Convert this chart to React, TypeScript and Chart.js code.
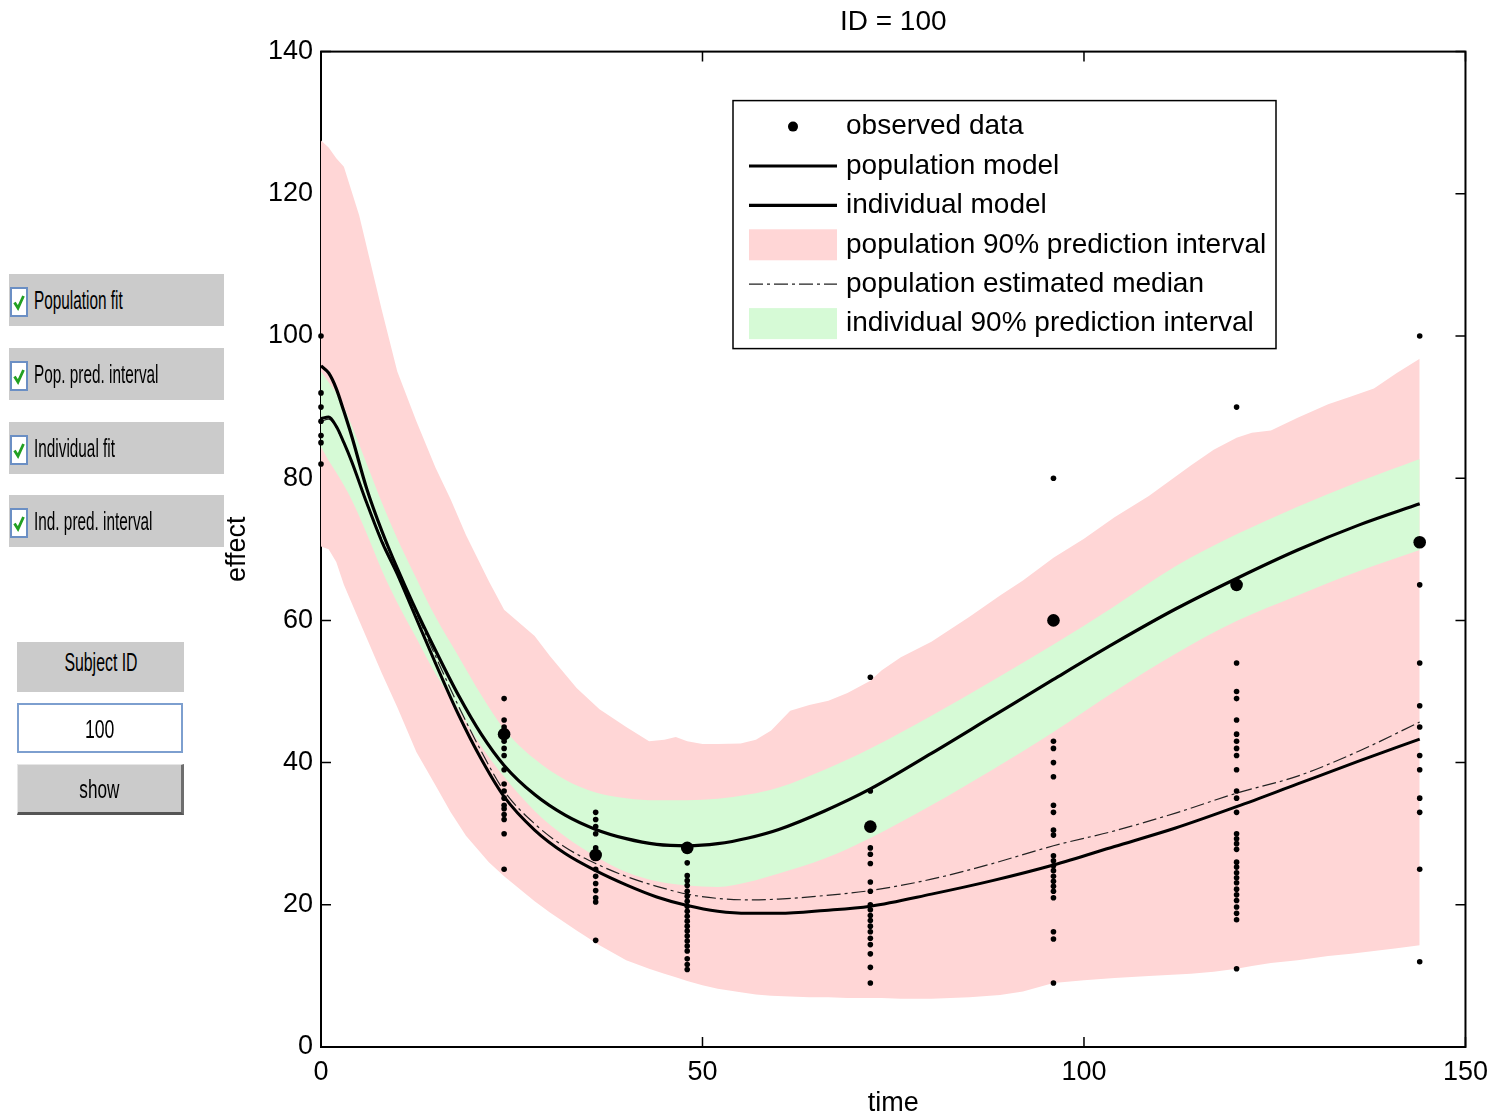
import React, { useEffect, useRef } from "react";
import { Chart, registerables } from "chart.js";

Chart.register(...registerables);

// ---------- data ----------
const curveTimes = [0, 1, 2, 3, 4, 6, 8, 10, 12, 15, 18, 21, 24, 28, 32, 36, 40, 44, 48, 52, 56, 60, 66, 72, 80, 88, 96, 104, 112, 120, 128, 136, 144];
const individualModel = [95.8, 94.8, 92.6, 89.4, 86, 78.5, 72.5, 67.3, 62.5, 55.8, 49.5, 44, 39.6, 35.5, 32.6, 30.6, 29.3, 28.5, 28.3, 28.6, 29.4, 30.6, 33.2, 36.3, 41.3, 46.5, 51.7, 56.8, 61.6, 65.9, 69.9, 73.4, 76.4];
const populationModel = [88.4, 88.6, 87.3, 85, 82.4, 76.5, 71, 66.5, 61.5, 54, 46.8, 40.5, 35.2, 30.5, 27.2, 24.8, 22.8, 21.1, 19.9, 19.1, 18.8, 18.8, 19.2, 19.8, 21.5, 23.4, 25.6, 28.2, 30.8, 33.8, 37, 40.2, 43.3];
const populationMedian = [88, 88.3, 87.1, 84.9, 82.3, 76.6, 71.3, 66.9, 62.2, 55, 48, 41.6, 36, 31.4, 28.1, 25.8, 24, 22.6, 21.5, 20.9, 20.7, 20.8, 21.3, 22, 23.6, 25.8, 28.3, 30.4, 32.9, 35.7, 38.1, 41.6, 45.7];
const indPiUpper = [95, 93.5, 92, 90, 87.5, 82, 76.5, 71.5, 67, 60.5, 55, 49.5, 44.7, 40.5, 37.6, 35.8, 35, 34.7, 34.7, 34.9, 35.5, 36.5, 39, 42, 46.6, 51.5, 56.6, 62, 67.6, 72.1, 76, 79.5, 82.7];
const indPiLower = [84.4, 82.5, 80.8, 79, 77, 72.2, 67, 62.5, 58.5, 52.5, 47.5, 42.3, 38, 33.2, 29.6, 26.8, 24.6, 23.3, 22.7, 22.5, 23.2, 24.4, 26.5, 29.4, 34, 39, 44.3, 50, 55.3, 59.9, 63.5, 66.9, 69.9];

const pinkTimes = [0, 1, 2, 3, 5, 8, 10, 12.5, 15, 17, 19, 22, 24, 28, 30, 33.5, 36.5, 40, 43, 45, 46.5, 48, 50, 52, 55, 57, 59, 61.5, 64, 66.5, 69, 72, 73.5, 76, 80, 85, 89, 92, 96, 100, 104, 108.5, 114, 117, 120, 122, 124.5, 128, 132, 135, 138, 141, 144];
const popPiUpper = [127.5, 126.5, 125, 123.8, 117, 103.5, 95, 88, 81.5, 77, 72, 65.5, 61.5, 57.8, 55, 50.5, 47.5, 45, 43, 43.2, 43.6, 43, 42.6, 42.6, 42.7, 43.2, 44.5, 47.3, 48.1, 48.7, 49.8, 51.5, 53, 54.8, 57, 60.5, 63.5, 65.6, 68.8, 71.5, 74.5, 77.5, 81.8, 84, 85.7, 86.4, 86.7, 88.5, 90.4, 91.5, 92.6, 94.8, 96.8];
const popPiLower = [70.4, 70, 68.2, 65, 60, 52.5, 47.8, 41.5, 36.8, 33, 29.7, 26, 24, 20.5, 18.9, 16.4, 14.3, 12.2, 11, 10.3, 9.8, 9.3, 8.7, 8.2, 7.7, 7.4, 7.2, 7.1, 7, 7, 6.9, 6.9, 6.9, 6.8, 6.8, 7, 7.3, 7.8, 9, 9.4, 9.7, 10, 10.3, 10.6, 11, 11.4, 11.8, 12.2, 12.8, 13.1, 13.5, 13.9, 14.3];

const observedTimes = [24, 36, 48, 72, 96, 120, 144];
const observedValues = [44, 27, 28, 31, 60, 65, 71];

const sampleTimes = [0, 24, 36, 48, 72, 96, 120, 144];
const simAt0 = [100, 92, 90, 88, 86, 85, 82];
const simAt24 = [49, 46, 45, 43, 42, 41, 39, 37, 36, 35, 34, 33.5, 32.7, 32, 30, 25];
const simAt36 = [33, 32, 31, 30, 28, 25, 24, 23, 22, 21, 20.4, 15];
const simAt48 = [25.9, 24.1, 23.4, 22.7, 21.9, 21.2, 20.5, 19.8, 19.1, 18.4, 17.7, 17, 16.3, 15.6, 14.9, 14.2, 13.5, 12.4, 11.6, 10.9];
const simAt72 = [52, 36, 28, 27.1, 25.8, 23.2, 21.9, 20, 19.3, 18.5, 17.8, 17, 16.2, 15.3, 14.4, 13.1, 11.2, 9];
const simAt96 = [80, 43, 42, 40, 38, 34, 33, 30.5, 29.8, 26.9, 26.2, 25.5, 24.8, 24, 23.3, 22.6, 21.9, 21, 16.2, 15.2, 9];
const simAt120 = [90, 54, 50, 49, 46, 44, 43, 42, 41, 39, 36, 35, 33, 30, 29.3, 28.6, 27.8, 26, 25.3, 24.5, 23.8, 23.1, 22.2, 21.4, 20.6, 19.7, 18.8, 17.9, 11];
const simAt144 = [100, 65, 54, 48, 45, 41, 39, 35, 33, 25, 12];
const simulatedData = [simAt0, simAt24, simAt36, simAt48, simAt72, simAt96, simAt120, simAt144];

const xTicks = [0, 50, 100, 150];
const yTicks = [0, 20, 40, 60, 80, 100, 120, 140];

const PINK = "rgb(255, 214, 214)";
const GREEN = "rgb(214, 250, 214)";
const FONT = '"Liberation Sans", Arial, Helvetica, sans-serif';

const toPts = (ts: number[], vs: number[]) => ts.map((t, i) => ({ x: t, y: vs[i] }));

// ---------- plugins ----------
const framePlugin = {
  id: "frame",
  beforeDatasetsDraw(chart: any) {
    const { ctx, chartArea: a, scales } = chart;
    const len = 10;
    ctx.save();
    ctx.strokeStyle = "#000";
    ctx.lineWidth = 2;
    ctx.strokeRect(a.left, a.top, a.right - a.left, a.bottom - a.top);
    ctx.lineWidth = 1.5;
    ctx.beginPath();
    scales.x.ticks.forEach((t: any) => {
      const px = scales.x.getPixelForValue(t.value);
      ctx.moveTo(px, a.bottom);
      ctx.lineTo(px, a.bottom - len);
      ctx.moveTo(px, a.top);
      ctx.lineTo(px, a.top + len);
    });
    scales.y.ticks.forEach((t: any) => {
      const py = scales.y.getPixelForValue(t.value);
      ctx.moveTo(a.left, py);
      ctx.lineTo(a.left + len, py);
      ctx.moveTo(a.right, py);
      ctx.lineTo(a.right - len, py);
    });
    ctx.stroke();
    ctx.restore();
  },
};

const boxLegendPlugin = {
  id: "boxLegend",
  afterDatasetsDraw(chart: any, _args: any, opts: any) {
    const { ctx, chartArea: a } = chart;
    const x0 = a.left + opts.offsetX;
    const y0 = a.top + opts.offsetY;
    ctx.save();
    ctx.fillStyle = "#fff";
    ctx.fillRect(x0, y0, opts.width, opts.height);
    ctx.strokeStyle = "#000";
    ctx.lineWidth = 1.5;
    ctx.strokeRect(x0, y0, opts.width, opts.height);
    const items = chart.data.datasets.filter((d: any) => d.legendSymbol);
    items.forEach((d: any, i: number) => {
      const cy = y0 + opts.firstRow + i * opts.rowGap;
      const sx0 = x0 + opts.symbolLeft;
      const sx1 = x0 + opts.symbolRight;
      if (d.legendSymbol === "point") {
        ctx.fillStyle = d.pointBackgroundColor;
        ctx.beginPath();
        ctx.arc((sx0 + sx1) / 2, cy, 5, 0, Math.PI * 2);
        ctx.fill();
      } else if (d.legendSymbol === "line") {
        ctx.strokeStyle = d.borderColor;
        ctx.lineWidth = d.borderWidth;
        ctx.setLineDash(d.borderDash || []);
        ctx.beginPath();
        ctx.moveTo(sx0, cy);
        ctx.lineTo(sx1, cy);
        ctx.stroke();
        ctx.setLineDash([]);
      } else if (d.legendSymbol === "box") {
        ctx.fillStyle = d.backgroundColor;
        ctx.fillRect(sx0, cy - 15.5, sx1 - sx0, 31);
      }
      ctx.fillStyle = "#000";
      ctx.font = `28px ${FONT}`;
      ctx.textBaseline = "middle";
      ctx.textAlign = "left";
      ctx.fillText(d.label, x0 + opts.textLeft, cy);
    });
    ctx.restore();
  },
};

// ---------- controls ----------
const GRAY = "#cbcbcb";

function CheckRow({ top, label }: { top: number; label: string }) {
  return (
    <div style={{ position: "absolute", left: 9, top, width: 215, height: 52, background: GRAY }}>
      <div
        style={{
          position: "absolute",
          left: 1,
          top: 13,
          width: 14,
          height: 26,
          border: "2px solid #6b8fc4",
          background: "#fff",
        }}
      >
        <svg width={14} height={26} style={{ position: "absolute", left: 0, top: 0 }}>
          <polyline points="2.5,13.5 6,19 11.5,7" fill="none" stroke="#22a022" strokeWidth={2.8} />
        </svg>
      </div>
      <span
        style={{
          position: "absolute",
          left: 25,
          top: 0,
          lineHeight: "52px",
          fontSize: 26,
          fontFamily: FONT,
          color: "#000",
          whiteSpace: "nowrap",
          transform: "scaleX(0.59)",
          transformOrigin: "left center",
        }}
      >
        {label}
      </span>
    </div>
  );
}

function CenterText({ text, scale, dy }: { text: string; scale: number; dy: number }) {
  return (
    <div
      style={{
        position: "absolute",
        left: 0,
        right: 0,
        top: dy,
        bottom: -dy,
        display: "flex",
        alignItems: "center",
        justifyContent: "center",
      }}
    >
      <span
        style={{
          fontSize: 26,
          fontFamily: FONT,
          color: "#000",
          whiteSpace: "nowrap",
          transform: `scaleX(${scale})`,
          transformOrigin: "center center",
        }}
      >
        {text}
      </span>
    </div>
  );
}

export default function App() {
  const canvasRef = useRef<HTMLCanvasElement>(null);

  useEffect(() => {
    Chart.defaults.font.family = FONT;
    Chart.defaults.color = "#000";
    const simPoints = sampleTimes.flatMap((t, i) => simulatedData[i].map((v) => ({ x: t, y: v })));

    const chart = new Chart(canvasRef.current as HTMLCanvasElement, {
      type: "line",
      data: {
        datasets: [
          {
            label: "observed data",
            data: toPts(observedTimes, observedValues),
            showLine: false,
            pointRadius: 6.3,
            pointBackgroundColor: "#000",
            pointBorderColor: "#000",
            pointBorderWidth: 0,
            order: 0,
            clip: false,
            legendSymbol: "point",
          },
          {
            label: "population model",
            data: toPts(curveTimes, populationModel),
            borderColor: "#000",
            borderWidth: 3,
            pointRadius: 0,
            cubicInterpolationMode: "monotone",
            fill: false,
            order: 2,
            legendSymbol: "line",
          },
          {
            label: "individual model",
            data: toPts(curveTimes, individualModel),
            borderColor: "#000",
            borderWidth: 3.2,
            pointRadius: 0,
            cubicInterpolationMode: "monotone",
            fill: false,
            order: 2,
            legendSymbol: "line",
          },
          {
            label: "population 90% prediction interval",
            data: toPts(pinkTimes, popPiUpper),
            borderColor: "transparent",
            borderWidth: 0,
            backgroundColor: PINK,
            pointRadius: 0,
            fill: 7,
            order: 10,
            legendSymbol: "box",
          },
          {
            label: "population estimated median",
            data: toPts(curveTimes, populationMedian),
            borderColor: "#222",
            borderWidth: 1.2,
            borderDash: [14, 4, 3, 4],
            pointRadius: 0,
            cubicInterpolationMode: "monotone",
            fill: false,
            order: 3,
            legendSymbol: "line",
          },
          {
            label: "individual 90% prediction interval",
            data: toPts(curveTimes, indPiUpper),
            borderColor: "transparent",
            borderWidth: 0,
            backgroundColor: GREEN,
            pointRadius: 0,
            cubicInterpolationMode: "monotone",
            fill: 8,
            order: 8,
            legendSymbol: "box",
          },
          {
            label: "",
            data: simPoints,
            showLine: false,
            pointRadius: 2.8,
            pointBackgroundColor: "#000",
            pointBorderColor: "#000",
            pointBorderWidth: 0,
            order: 1,
            clip: false,
          },
          {
            label: "",
            data: toPts(pinkTimes, popPiLower),
            borderColor: "transparent",
            borderWidth: 0,
            pointRadius: 0,
            fill: false,
            order: 11,
          },
          {
            label: "",
            data: toPts(curveTimes, indPiLower),
            borderColor: "transparent",
            borderWidth: 0,
            pointRadius: 0,
            cubicInterpolationMode: "monotone",
            fill: false,
            order: 9,
          },
        ] as any,
      },
      options: {
        responsive: false,
        maintainAspectRatio: false,
        devicePixelRatio: 1,
        animation: false,
        events: [],
        layout: { padding: { left: 0, right: 30, top: 0, bottom: 0 } },
        scales: {
          x: {
            type: "linear",
            min: xTicks[0],
            max: xTicks[xTicks.length - 1],
            afterBuildTicks: (s: any) => {
              s.ticks = xTicks.map((v) => ({ value: v }));
            },
            ticks: { font: { size: 27 }, color: "#000", padding: 9, maxRotation: 0, autoSkip: false },
            grid: { display: false, drawTicks: false },
            border: { display: false },
            title: { display: true, text: "time", font: { size: 27 }, color: "#000", padding: { top: 0, bottom: -3 } },
            afterFit: (s: any) => {
              s.height = 70;
            },
          },
          y: {
            type: "linear",
            min: yTicks[0],
            max: yTicks[yTicks.length - 1],
            afterBuildTicks: (s: any) => {
              s.ticks = yTicks.map((v) => ({ value: v }));
            },
            ticks: { font: { size: 27 }, color: "#000", padding: 8, autoSkip: false },
            grid: { display: false, drawTicks: false },
            border: { display: false },
            title: { display: true, text: "effect", font: { size: 27 }, color: "#000", padding: { top: 221, bottom: 0 } },
            afterFit: (s: any) => {
              s.width = 321;
            },
          },
        },
        plugins: {
          legend: { display: false },
          tooltip: { enabled: false },
          title: {
            display: true,
            text: "ID = 100",
            fullSize: false,
            font: { size: 28, weight: "normal" },
            color: "#000",
            padding: { top: 5, bottom: 13 },
          },
          boxLegend: {
            offsetX: 412,
            offsetY: 49,
            width: 543,
            height: 248,
            firstRow: 26,
            rowGap: 39.4,
            symbolLeft: 16,
            symbolRight: 104,
            textLeft: 113,
          },
        } as any,
      },
      plugins: [framePlugin, boxLegendPlugin],
    });
    return () => chart.destroy();
  }, []);

  return (
    <div style={{ position: "absolute", left: 0, top: 0, width: 1497, height: 1117, background: "#fff", overflow: "hidden" }}>
      <canvas ref={canvasRef} width={1497} height={1117} style={{ position: "absolute", left: 0, top: 0, display: "block" }} />
      <CheckRow top={274} label="Population fit" />
      <CheckRow top={348} label="Pop. pred. interval" />
      <CheckRow top={422} label="Individual fit" />
      <CheckRow top={495} label="Ind. pred. interval" />
      <div style={{ position: "absolute", left: 17, top: 642, width: 167, height: 50, background: GRAY }}>
        <CenterText text="Subject ID" scale={0.61} dy={-5} />
      </div>
      <div
        style={{
          position: "absolute",
          left: 17,
          top: 703,
          width: 166,
          height: 50,
          background: "#fff",
          border: "2px solid #7d9fcf",
          boxSizing: "border-box",
        }}
      >
        <CenterText text="100" scale={0.68} dy={1} />
      </div>
      <div
        style={{
          position: "absolute",
          left: 17,
          top: 764,
          width: 167,
          height: 51,
          background: GRAY,
          boxSizing: "border-box",
          borderTop: "1px solid #e6e6e6",
          borderLeft: "1px solid #e6e6e6",
          borderRight: "3px solid #6e6e6e",
          borderBottom: "3px solid #555",
        }}
      >
        <CenterText text="show" scale={0.66} dy={1} />
      </div>
    </div>
  );
}
